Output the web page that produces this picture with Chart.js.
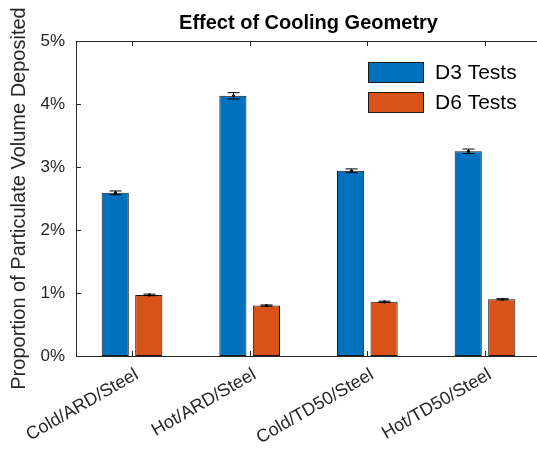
<!DOCTYPE html>
<html>
<head>
<meta charset="utf-8">
<script src="https://cdn.jsdelivr.net/npm/chart.js@4/dist/chart.umd.min.js"></script>
<style>
    html, body { margin: 0; padding: 0; background: #fff; overflow: hidden; }
    #wrap { width: 537px; height: 450px; overflow: hidden; }
</style>
</head>
<body>
<div id="wrap"><canvas id="chart" width="545" height="450"></canvas></div>
<script>
// Chart data (values in percent)
const categories = ['Cold/ARD/Steel', 'Hot/ARD/Steel', 'Cold/TD50/Steel', 'Hot/TD50/Steel'];
const seriesNames = ['D3 Tests', 'D6 Tests'];
const d3Values = [2.59, 4.13, 2.94, 3.25];
const d3Errors = [0.03, 0.05, 0.03, 0.035];
const d6Values = [0.97, 0.80, 0.86, 0.90];
const d6Errors = [0.012, 0.01, 0.01, 0.01];
const yTicks = [0, 1, 2, 3, 4, 5];
const chartTitle = 'Effect of Cooling Geometry';
const yTitle = 'Proportion of Particulate Volume Deposited';

const blue = '#0072BD';
const orange = '#D95319';
const axisColor = '#262626';
const font = '"Liberation Sans", Arial, Helvetica, sans-serif';

const errors = [d3Errors, d6Errors];

// error bars, box, inward ticks, title and legend drawn on top
const extrasPlugin = {
    id: 'extras',
    afterDatasetsDraw(chart) {
        const ctx = chart.ctx;
        const yScale = chart.scales.y;
        ctx.save();
        ctx.strokeStyle = '#000';
        ctx.fillStyle = '#000';
        ctx.lineWidth = 1;
        chart.data.datasets.forEach((ds, di) => {
            const meta = chart.getDatasetMeta(di);
            meta.data.forEach((bar, i) => {
                const v = ds.data[i].y;
                const e = errors[di][i];
                const x = Math.round(bar.x) + 0.5;
                const yTop = yScale.getPixelForValue(v + e);
                const yBot = yScale.getPixelForValue(v - e);
                const cap = 6;
                ctx.beginPath();
                ctx.moveTo(x, yTop);
                ctx.lineTo(x, yBot);
                ctx.moveTo(x - cap, yTop);
                ctx.lineTo(x + cap, yTop);
                ctx.moveTo(x - cap, yBot);
                ctx.lineTo(x + cap, yBot);
                ctx.stroke();
                ctx.beginPath();
                ctx.arc(x, yScale.getPixelForValue(v), 1.6, 0, Math.PI * 2);
                ctx.fill();
            });
        });
        ctx.restore();
    },
    afterDraw(chart) {
        const ctx = chart.ctx;
        const area = chart.chartArea;
        const xScale = chart.scales.x;
        const yScale = chart.scales.y;
        ctx.save();
        ctx.strokeStyle = axisColor;
        ctx.lineWidth = 1;
        ctx.beginPath();
        // box top and right
        ctx.moveTo(area.left, Math.round(area.top) + 0.5);
        ctx.lineTo(area.right, Math.round(area.top) + 0.5);
        ctx.moveTo(Math.round(area.right) - 0.5, area.top);
        ctx.lineTo(Math.round(area.right) - 0.5, area.bottom);
        // inward ticks
        const tl = 5;
        categories.forEach((c, i) => {
            const x = Math.round(xScale.getPixelForValue(i + 1)) + 0.5;
            ctx.moveTo(x, area.top);
            ctx.lineTo(x, area.top + tl);
            ctx.moveTo(x, area.bottom);
            ctx.lineTo(x, area.bottom - tl);
        });
        yTicks.forEach(v => {
            const y = Math.round(yScale.getPixelForValue(v)) + 0.5;
            ctx.moveTo(area.left, y);
            ctx.lineTo(area.left + tl, y);
        });
        ctx.stroke();

        // title
        ctx.fillStyle = '#000';
        ctx.font = 'bold 20px ' + font;
        ctx.textAlign = 'center';
        ctx.textBaseline = 'middle';
        ctx.fillText(chartTitle, (area.left + area.right) / 2, 23);

        // legend
        const colors = [blue, orange];
        ctx.font = '21px ' + font;
        ctx.textAlign = 'left';
        seriesNames.forEach((name, i) => {
            const y = 62 + i * 30;
            ctx.fillStyle = colors[i];
            ctx.fillRect(368, y, 56, 21);
            ctx.strokeStyle = '#1a1a1a';
            ctx.strokeRect(368.5, y + 0.5, 55, 20);
            ctx.fillStyle = '#000';
            ctx.fillText(name, 435, y + 11);
        });
        ctx.restore();
    }
};

const toPoints = vals => vals.map((v, i) => ({ x: i + 1, y: v }));

new Chart(document.getElementById('chart').getContext('2d'), {
    type: 'bar',
    data: {
        datasets: [
            {
                label: seriesNames[0],
                data: toPoints(d3Values),
                backgroundColor: blue,
                borderColor: '#1a1a1a',
                borderWidth: 1,
                borderSkipped: false
            },
            {
                label: seriesNames[1],
                data: toPoints(d6Values),
                backgroundColor: orange,
                borderColor: '#1a1a1a',
                borderWidth: 1,
                borderSkipped: false
            }
        ]
    },
    options: {
        responsive: false,
        animation: false,
        devicePixelRatio: 1,
        categoryPercentage: 0.57,
        barPercentage: 0.81,
        layout: { padding: { top: 41, left: 0, right: 4, bottom: 0 } },
        plugins: {
            legend: { display: false },
            title: { display: false },
            tooltip: { enabled: false }
        },
        scales: {
            x: {
                type: 'linear',
                min: 0.524,
                max: 4.476,
                offset: false,
                afterBuildTicks: scale => {
                    scale.ticks = categories.map((c, i) => ({ value: i + 1 }));
                },
                afterFit: scale => { scale.height = 94; },
                grid: { display: false, drawTicks: false, tickLength: 0 },
                border: { display: true, color: axisColor, width: 1 },
                ticks: {
                    autoSkip: false,
                    maxRotation: 30,
                    minRotation: 30,
                    padding: 8,
                    labelOffset: 5,
                    color: axisColor,
                    font: { family: font, size: 18 },
                    callback: v => categories[v - 1]
                }
            },
            y: {
                min: 0,
                max: 5,
                afterBuildTicks: scale => {
                    scale.ticks = yTicks.map(v => ({ value: v }));
                },
                afterFit: scale => { scale.width = 76; },
                grid: { display: false, drawTicks: false, tickLength: 0 },
                border: { display: true, color: axisColor, width: 1 },
                ticks: {
                    padding: 11,
                    color: axisColor,
                    font: { family: font, size: 17 },
                    callback: v => v + '%'
                },
                title: {
                    display: true,
                    text: yTitle,
                    color: axisColor,
                    font: { family: font, size: 20 },
                    padding: { top: 7, bottom: 0 }
                }
            }
        }
    },
    plugins: [extrasPlugin]
});
</script>
</body>
</html>
